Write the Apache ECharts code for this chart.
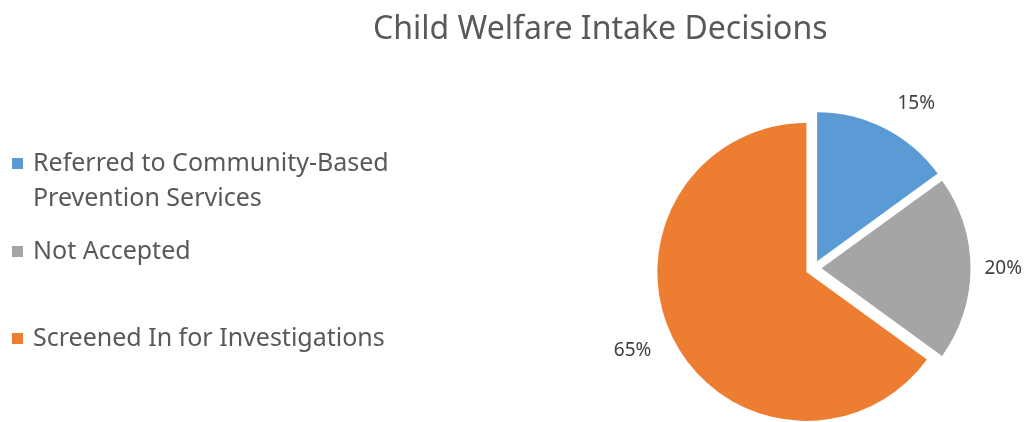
<!DOCTYPE html>
<html>
<head>
<meta charset="utf-8">
<script src="https://cdn.jsdelivr.net/npm/echarts@6/dist/echarts.min.js"></script>
<style>html,body{margin:0;padding:0;background:#fff;}#c{width:1033px;height:422px;}</style>
</head>
<body>
<div id="c"></div>
<script>
const titleText = 'Child Welfare Intake Decisions';
const categories = ['Referred to Community-Based Prevention Services', 'Not Accepted', 'Screened In for Investigations'];
const legendLabels = ['Referred to Community-Based\nPrevention Services', 'Not Accepted', 'Screened In for Investigations'];
const values = [15, 20, 65];
const colors = ['#5B9BD5', '#A5A5A5', '#ED7D31'];

const FONT = 'Noto Sans';
const chart = echarts.init(document.getElementById('c'), null, {renderer: 'canvas'});

const labelLengths = [28, 14, 25];

function legendFor(i, top, icon, ih) {
  return {
    orient: 'vertical', left: 12, top: top, padding: 0,
    data: [categories[i]],
    icon: icon, itemWidth: 11, itemHeight: ih, itemGap: 0,
    selectedMode: false,
    formatter: function (n) { return legendLabels[categories.indexOf(n)]; },
    textStyle: {fontFamily: FONT, fontSize: 25, color: '#595959', lineHeight: 35, padding: [0, 0, 0, 5]}
  };
}

chart.setOption({
  animation: false,
  color: colors,
  title: {
    text: titleText, left: 368, top: 9,
    textStyle: {fontFamily: FONT, fontSize: 32, fontWeight: 'normal', color: '#595959'}
  },
  legend: [
    legendFor(0, 146, 'path://M0,0h11v11h-11z M0,46h0.01v0.01h-0.01z', 46),
    legendFor(1, 234, 'rect', 11),
    legendFor(2, 321, 'rect', 11)
  ],
  series: [{
    type: 'pie',
    center: [813.5, 268.3],
    radius: 149,
    startAngle: 90,
    clockwise: true,
    selectedMode: 'multiple',
    selectedOffset: 8,
    avoidLabelOverlap: false,
    itemStyle: {borderWidth: 0},
    label: {
      show: true, position: 'outside', formatter: '{c}%',
      fontFamily: FONT, fontSize: 19, color: '#404040', distanceToLabelLine: 0
    },
    labelLine: {show: false, length2: 0},
    emphasis: {disabled: true},
    select: {itemStyle: {borderWidth: 0}},
    data: categories.map(function (n, i) {
      return {name: n, value: values[i], selected: true,
        itemStyle: {color: colors[i]}, select: {itemStyle: {color: colors[i]}},
        labelLine: {show: false, length: labelLengths[i], length2: 0}};
    })
  }]
});
</script>
</body>
</html>
